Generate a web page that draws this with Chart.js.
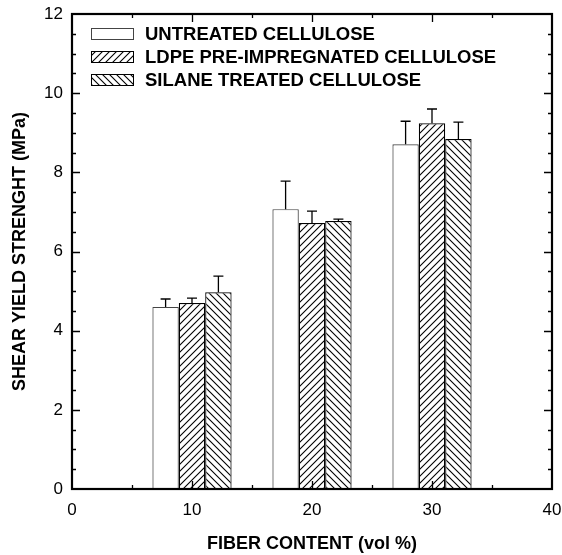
<!DOCTYPE html>
<html>
<head>
<meta charset="utf-8">
<script src="https://cdn.jsdelivr.net/npm/chart.js@4.4.1/dist/chart.umd.min.js"></script>
<style>
  html, body { margin: 0; padding: 0; background: #fff; }
  #wrap { width: 562px; height: 555px; }
</style>
</head>
<body>
<div id="wrap"><canvas id="c" width="562" height="555"></canvas></div>
<script>
// Fiber content (vol %) of each bar group
const categories = [10, 20, 30];

// Mean shear yield strength (MPa) and upper error (MPa) per series
const untreated    = [4.60, 7.07, 8.71];
const untreatedErr = [0.20, 0.71, 0.58];
const ldpe         = [4.70, 6.72, 9.24];
const ldpeErr      = [0.12, 0.30, 0.36];
const silane       = [4.97, 6.77, 8.84];
const silaneErr    = [0.41, 0.05, 0.43];

const seriesNames = [
  'UNTREATED CELLULOSE',
  'LDPE PRE-IMPREGNATED CELLULOSE',
  'SILANE TREATED CELLULOSE'
];

const xTickLabels = [0, 10, 20, 30, 40];
const yTickLabels = [0, 2, 4, 6, 8, 10, 12];

// Diagonal hatch fill; dir = 1 gives "/", dir = -1 gives "\"
function hatch(dir) {
  const s = 7;
  const c = document.createElement('canvas');
  c.width = s; c.height = s;
  const g = c.getContext('2d');
  g.fillStyle = '#fff';
  g.fillRect(0, 0, s, s);
  g.strokeStyle = '#000';
  g.lineWidth = 1.1;
  g.beginPath();
  if (dir > 0) {
    g.moveTo(0, s); g.lineTo(s, 0);
    g.moveTo(-1, 1); g.lineTo(1, -1);
    g.moveTo(s - 1, s + 1); g.lineTo(s + 1, s - 1);
  } else {
    g.moveTo(0, 0); g.lineTo(s, s);
    g.moveTo(s - 1, -1); g.lineTo(s + 1, 1);
    g.moveTo(-1, s - 1); g.lineTo(1, s + 1);
  }
  g.stroke();
  return document.getElementById('c').getContext('2d').createPattern(c, 'repeat');
}

const fills = ['#ffffff', hatch(1), hatch(-1)];
const borders = ['#444', '#000', '#000'];
const values = [untreated, ldpe, silane];
const errors = [untreatedErr, ldpeErr, silaneErr];

const FONT = "'Liberation Sans', Arial, sans-serif";

// Upper error bars with caps
const errorBars = {
  id: 'errorBars',
  afterDatasetsDraw(chart) {
    const ctx = chart.ctx;
    const y = chart.scales.y;
    ctx.save();
    ctx.strokeStyle = '#000';
    ctx.lineWidth = 1.3;
    chart.data.datasets.forEach((ds, di) => {
      const meta = chart.getDatasetMeta(di);
      meta.data.forEach((bar, i) => {
        const top = y.getPixelForValue(values[di][i] + errors[di][i]);
        ctx.beginPath();
        ctx.moveTo(bar.x, bar.y);
        ctx.lineTo(bar.x, top);
        ctx.moveTo(bar.x - 5, top);
        ctx.lineTo(bar.x + 5, top);
        ctx.stroke();
      });
    });
    ctx.restore();
  }
};

// Closed frame with inward ticks on all four sides
const frame = {
  id: 'frame',
  afterDraw(chart) {
    const ctx = chart.ctx;
    const a = chart.chartArea;
    const xs = chart.scales.x, ys = chart.scales.y;
    ctx.save();
    ctx.strokeStyle = '#000';
    ctx.lineWidth = 1.3;
    ctx.beginPath();
    for (let v = 0.5; v < 12; v += 0.5) {
      const len = (v % 2 === 0) ? 8 : 4;
      const p = Math.round(ys.getPixelForValue(v)) + 0.5;
      ctx.moveTo(a.left, p); ctx.lineTo(a.left + len, p);
      ctx.moveTo(a.right, p); ctx.lineTo(a.right - len, p);
    }
    for (let v = 5; v < 40; v += 5) {
      const len = (v % 10 === 0) ? 8 : 4;
      const p = Math.round(xs.getPixelForValue(v)) + 0.5;
      ctx.moveTo(p, a.bottom); ctx.lineTo(p, a.bottom - len);
      ctx.moveTo(p, a.top); ctx.lineTo(p, a.top + len);
    }
    ctx.stroke();
    ctx.lineWidth = 2.2;
    ctx.strokeRect(a.left, a.top, a.right - a.left, a.bottom - a.top);
    ctx.restore();
  }
};

// Legend drawn inside the plot, top-left
const insideLegend = {
  id: 'insideLegend',
  afterDraw(chart) {
    const ctx = chart.ctx;
    const a = chart.chartArea;
    ctx.save();
    ctx.font = 'bold 18.5px ' + FONT;
    ctx.textBaseline = 'middle';
    ctx.fillStyle = '#000';
    chart.data.datasets.forEach((ds, i) => {
      const bx = a.left + 19, by = a.top + 14 + i * 23;
      ctx.fillStyle = fills[i];
      ctx.fillRect(bx, by, 42, 11);
      ctx.strokeStyle = borders[i];
      ctx.lineWidth = 1;
      ctx.strokeRect(bx + 0.5, by + 0.5, 42, 11);
      ctx.fillStyle = '#000';
      ctx.fillText(ds.label, a.left + 73, by + 6.5);
    });
    ctx.restore();
  }
};

new Chart(document.getElementById('c'), {
  type: 'bar',
  data: {
    datasets: seriesNames.map((name, di) => ({
      label: name,
      data: categories.map((c, i) => ({ x: c, y: values[di][i] })),
      backgroundColor: fills[di],
      borderColor: borders[di],
      borderWidth: 1.2,
      borderSkipped: 'bottom',
      categoryPercentage: 0.66,
      barPercentage: 1.0
    }))
  },
  options: {
    responsive: false,
    animation: false,
    layout: { padding: { top: 14, right: 10, left: 0, bottom: 0 } },
    plugins: { legend: { display: false }, tooltip: { enabled: false } },
    scales: {
      x: {
        type: 'linear',
        min: 0, max: 40,
        offset: false,
        afterBuildTicks: s => { s.ticks = xTickLabels.map(v => ({ value: v })); },
        grid: { display: false, drawTicks: false },
        border: { display: false },
        ticks: { color: '#000', font: { family: FONT, size: 17 }, padding: 11, maxRotation: 0 },
        title: { display: true, text: 'FIBER CONTENT (vol %)', color: '#000',
                 font: { family: FONT, size: 18, weight: 'bold' }, padding: { top: 0, bottom: 0 } },
        afterFit: s => { s.height = 66; s.paddingLeft = 0; s.paddingRight = 0; }
      },
      y: {
        min: 0, max: 12,
        afterBuildTicks: s => { s.ticks = yTickLabels.map(v => ({ value: v })); },
        grid: { display: false, drawTicks: false },
        border: { display: false },
        ticks: { color: '#000', font: { family: FONT, size: 17 }, padding: 9 },
        title: { display: true, text: 'SHEAR YIELD STRENGHT (MPa)', color: '#000',
                 font: { family: FONT, size: 18, weight: 'bold' }, padding: { top: 9, bottom: 0 } },
        afterFit: s => { s.width = 72; s.paddingTop = 0; s.paddingBottom = 0; }
      }
    }
  },
  plugins: [errorBars, frame, insideLegend]
});
</script>
</body>
</html>
